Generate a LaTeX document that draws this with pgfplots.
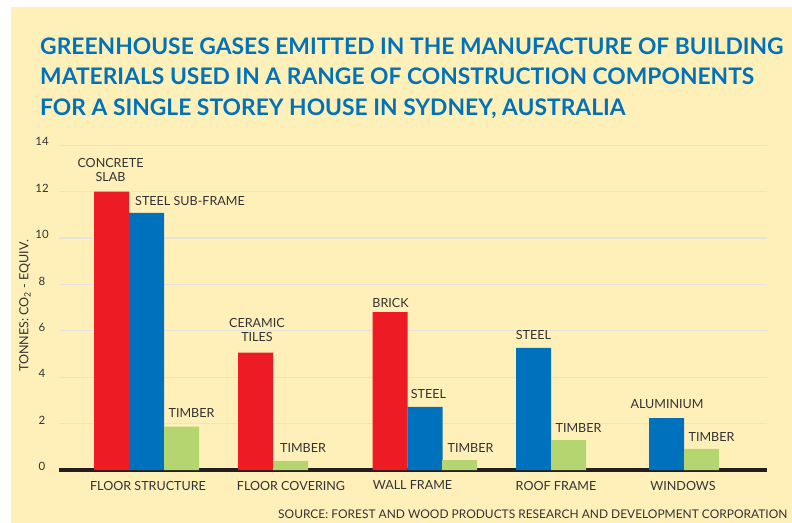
\documentclass[border=0pt]{standalone}
\usepackage{pgfplots}
\pgfplotsset{compat=1.18}
\usepackage{pgfplotstable}
\usepackage{fontspec}
\setmainfont{Lato}
\definecolor{cream}{HTML}{FFF0BA}
\definecolor{barred}{HTML}{ED1C24}
\definecolor{barblue}{HTML}{0071BC}
\definecolor{bargreen}{HTML}{B4D56F}
\definecolor{titleblue}{HTML}{0072BC}
\definecolor{txt}{HTML}{333333}
\definecolor{gridc}{HTML}{E6E4DA}
\definecolor{axisc}{HTML}{231F20}
\protected\def\lblconcrete{CONCRETE\\SLAB}
\protected\def\lblceramic{CERAMIC\\TILES}

\pgfplotstableread{
x y dx dy label
111.5 12.00 -1 10.3 \lblconcrete
255.5 5.06 1.5 10.4 \lblceramic
390 6.81 0.5 4.7 BRICK
}\redtab
\pgfplotstableread{
x y dx dy label
146.5 11.08 43.5 7 {STEEL SUB-FRAME}
425 2.72 3.5 8 STEEL
533.5 5.26 0 8 STEEL
666.5 2.24 0.5 9.7 ALUMINIUM
}\bluetab
\pgfplotstableread{
x y dx dy label
181.5 1.87 10 9 TIMBER
290.5 0.39 12.5 8.3 TIMBER
459.5 0.43 11 7.7 TIMBER
568.5 1.29 10 7.7 TIMBER
701.5 0.91 10 6.7 TIMBER
}\greentab

\begin{document}
\begin{tikzpicture}
\path[use as bounding box, fill=white] (0,0) rectangle (792bp,-523bp);
\fill[cream] (11bp,-7bp) rectangle (792bp,-523bp);
\begin{scope}[every node/.style={inner sep=0pt, anchor=base west, text=titleblue, font=\fontsize{22.9}{26}\selectfont\bfseries}]
\node at (40bp,-54.5bp) {GREENHOUSE GASES EMITTED IN THE MANUFACTURE OF BUILDING};
\node at (40bp,-84.7bp) {MATERIALS USED IN A RANGE OF CONSTRUCTION COMPONENTS};
\node at (40bp,-115bp) {FOR A SINGLE STOREY HOUSE IN SYDNEY, AUSTRALIA};
\end{scope}
\node[rotate=90, inner sep=0pt, text=txt, font=\fontsize{12.6}{15}\selectfont] at (25bp,-306bp) {TONNES: CO\textsubscript{2} - EQUIV.};
\node[inner sep=0pt, anchor=base west, text=txt, font=\fontsize{12}{15}\selectfont] at (278bp,-518.5bp) {SOURCE: FOREST AND WOOD PRODUCTS RESEARCH AND DEVELOPMENT CORPORATION};
\begin{axis}[
  at={(59bp,-470bp)}, anchor=south west,
  scale only axis, width=708bp, height=324.8bp,
  xmin=59, xmax=767, ymin=0, ymax=14,
  enlargelimits=false,
  axis x line*=bottom, axis y line*=left,
  x axis line style={-, line width=4.7bp, color=axisc},
  y axis line style={draw=none},
  major tick length=0pt,
  ytick={0,2,...,14},
  ymajorgrids, grid style={color=gridc, line width=1.3bp},
  xtick={148,291,412.5,556,683},
  xticklabels={FLOOR STRUCTURE, FLOOR COVERING, WALL FRAME, ROOF FRAME, WINDOWS},
  /pgf/number format/assume math mode=true,
  yticklabel style={anchor=center, xshift=-17bp, yshift=3.5bp, font=\fontsize{11.5}{13}\selectfont, text=txt},
  xticklabel style={anchor=north, inner sep=0pt, yshift=-10.7bp, font=\fontsize{12.6}{15}\selectfont, text=txt},
  point meta=explicit symbolic,
  nodes near coords,
  nodes near coords style={anchor=south, inner sep=0pt, align=center, text=txt, font=\fontsize{12.6}{14}\selectfont},
  visualization depends on={\thisrow{dx} \as \dx},
  visualization depends on={\thisrow{dy} \as \dy},
  every node near coord/.append style={xshift=\dx bp, yshift=\dy bp},
]
\addplot[ybar, bar width=35, bar shift=0pt, fill=barred, draw=none] table[x=x, y=y, meta=label] {\redtab};
\addplot[ybar, bar width=35, bar shift=0pt, fill=barblue, draw=none] table[x=x, y=y, meta=label] {\bluetab};
\addplot[ybar, bar width=35, bar shift=0pt, fill=bargreen, draw=none] table[x=x, y=y, meta=label] {\greentab};
\end{axis}
\end{tikzpicture}
\end{document}
